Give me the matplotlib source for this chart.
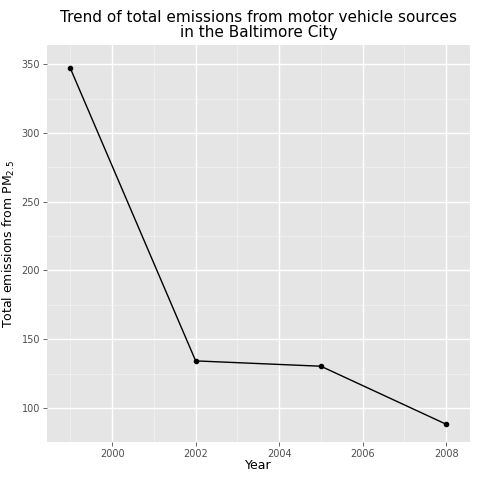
import matplotlib
matplotlib.use("Agg")
import matplotlib.pyplot as plt

years = [1999, 2002, 2005, 2008]
emissions = [346.82, 134.31, 130.43, 88.28]

fig = plt.figure(figsize=(4.8, 4.8), dpi=100)
# panel: x 47..470, y 45..442 px
ax = fig.add_axes([0.098, 0.079, 0.881, 0.827])
ax.set_facecolor("#E5E5E5")
for s in ax.spines.values():
    s.set_visible(False)

ax.set_xticks([2000, 2002, 2004, 2006, 2008])
ax.set_yticks([100, 150, 200, 250, 300, 350])
ax.set_xticks([1999, 2001, 2003, 2005, 2007], minor=True)
ax.set_yticks([125, 175, 225, 275, 325], minor=True)
ax.grid(True, which="major", color="white", linewidth=1.0)
ax.grid(True, which="minor", color="#F2F2F2", linewidth=0.5)
ax.set_axisbelow(True)
ax.tick_params(which="major", colors="#4D4D4D", labelsize=7, length=3, width=0.6, pad=2)
ax.tick_params(which="minor", length=0)

ax.plot(years, emissions, color="black", linewidth=1.0, marker="o", markersize=3)
ax.set_xlim(1998.44, 2008.57)
ax.set_ylim(75.3, 363.8)

ax.set_xlabel("Year", fontsize=9, labelpad=0)
ax.set_ylabel("Total emissions from PM$_{2.5}$", fontsize=9, labelpad=3)
ax.set_title("Trend of total emissions from motor vehicle sources\nin the Baltimore City",
             fontsize=11, linespacing=1.0)

fig.savefig("out.png", dpi=100)
